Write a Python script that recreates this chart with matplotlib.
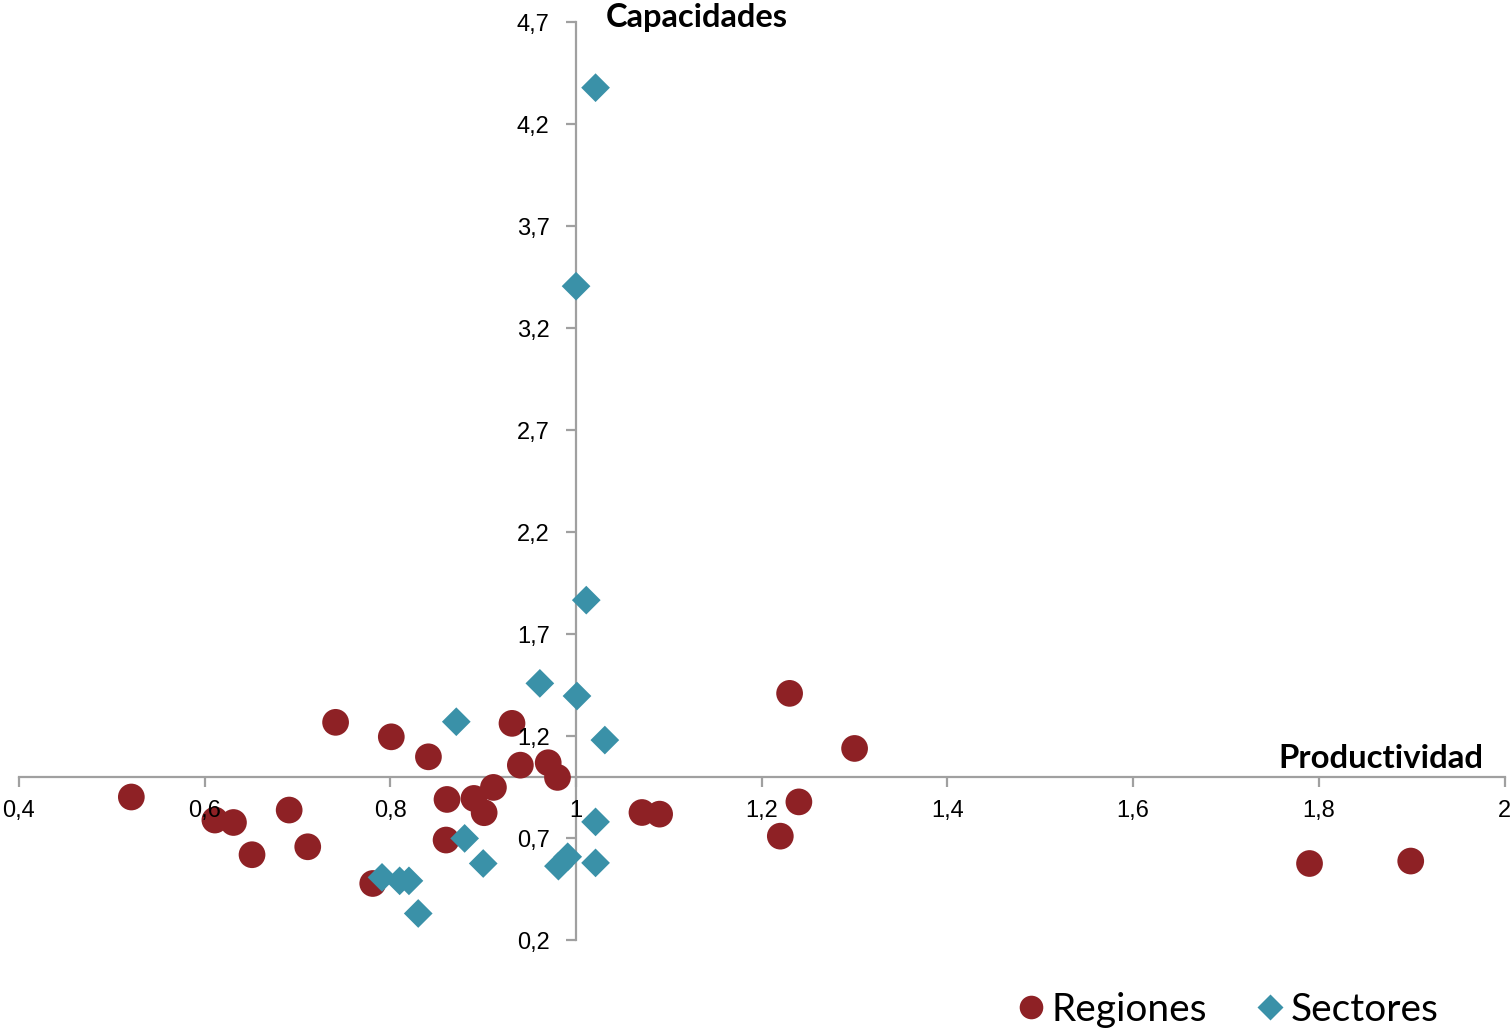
import numpy as np
import matplotlib.pyplot as plt
from matplotlib.lines import Line2D

# Regiones (circulos)
reg_x = [0.521, 0.611, 0.631, 0.651, 0.691, 0.711, 0.741, 0.801, 0.781, 0.841,
         0.861, 0.860, 0.890, 0.901, 0.911, 0.931, 0.940, 0.970, 0.980, 1.071,
         1.090, 1.230, 1.300, 1.240, 1.220, 1.790, 1.899]
reg_y = [0.901, 0.788, 0.776, 0.618, 0.837, 0.657, 1.267, 1.196, 0.477, 1.098,
         0.889, 0.690, 0.894, 0.824, 0.948, 1.262, 1.057, 1.069, 0.997, 0.825,
         0.817, 1.409, 1.139, 0.877, 0.709, 0.575, 0.587]

# Sectores (rombos)
sec_x = [1.021, 1.000, 1.011, 0.961, 1.001, 1.031, 1.021, 1.021, 0.991, 0.981,
         0.871, 0.880, 0.900, 0.791, 0.810, 0.820, 0.830]
sec_y = [4.378, 3.405, 1.866, 1.458, 1.396, 1.180, 0.779, 0.578, 0.608, 0.562,
         1.270, 0.698, 0.575, 0.507, 0.490, 0.490, 0.330]

x_ticks = [0.4, 0.6, 0.8, 1.0, 1.2, 1.4, 1.6, 1.8, 2.0]
x_labels = ['0,4', '0,6', '0,8', '1', '1,2', '1,4', '1,6', '1,8', '2']
y_ticks = [0.2, 0.7, 1.2, 1.7, 2.2, 2.7, 3.2, 3.7, 4.2, 4.7]
y_labels = ['0,2', '0,7', '1,2', '1,7', '2,2', '2,7', '3,2', '3,7', '4,2', '4,7']

red = '#8e2125'
teal = '#3a91a8'
axis_col = '#a0a0a0'

fig = plt.figure(figsize=(15.11, 10.29), dpi=100)
ax = fig.add_axes([0.01257, 0.08649, 0.98313, 0.89213])

ax.scatter(reg_x, reg_y, s=370, marker='o', color=red, edgecolors='none', zorder=3)
ax.scatter(sec_x, sec_y, s=214, marker='D', color=teal, edgecolors='none', zorder=4)

ax.set_xlim(0.4, 2.0)
ax.set_ylim(0.2, 4.7)

ax.spines['left'].set_position(('data', 1.0))
ax.spines['bottom'].set_position(('data', 1.0))
ax.spines['right'].set_visible(False)
ax.spines['top'].set_visible(False)
for sp in ['left', 'bottom']:
    ax.spines[sp].set_color(axis_col)
    ax.spines[sp].set_linewidth(1.6)

ax.set_xticks(x_ticks)
ax.set_xticklabels(x_labels, fontfamily='Liberation Sans', fontsize=17)
ax.set_yticks(y_ticks)
ax.set_yticklabels(y_labels, fontfamily='Liberation Sans', fontsize=17)
ax.tick_params(axis='both', direction='out', length=7, width=1.6, color=axis_col)
ax.tick_params(axis='x', pad=10)
ax.tick_params(axis='y', pad=12)
# tick labels drawn above the markers, as in the original
ax.xaxis.set_zorder(5)
ax.yaxis.set_zorder(5)
ax.patch.set_visible(False)

fig.text(606 / 1511, 1 - 17 / 1029, 'Capacidades', fontfamily='Lato', fontweight='bold',
         fontsize=23.5, ha='left', va='center')
fig.text(1278 / 1511, 1 - 759 / 1029, 'Productividad', fontfamily='Lato', fontweight='bold',
         fontsize=23.7, ha='left', va='center')

handles = [Line2D([], [], linestyle='none', marker='o', markersize=17, color=red, markeredgecolor='none'),
           Line2D([], [], linestyle='none', marker='D', markersize=13, color=teal, markeredgecolor='none')]
fig.legend(handles, ['Regiones', 'Sectores'], loc='lower right', ncol=2, frameon=False,
           bbox_to_anchor=(0.9755, -0.033), prop={'family': 'Lato', 'size': 28},
           handletextpad=0.05, columnspacing=1.1, handlelength=1.0)

plt.savefig('out.png', dpi=100)
